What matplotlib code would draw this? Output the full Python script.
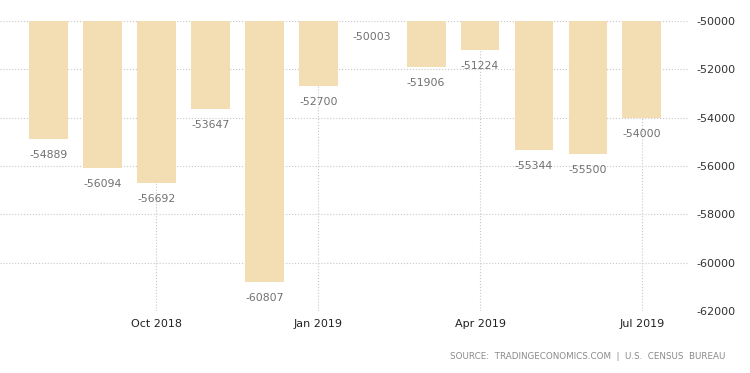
import matplotlib
matplotlib.use("Agg")
import matplotlib.pyplot as plt

months = ["Aug 2018", "Sep 2018", "Oct 2018", "Nov 2018", "Dec 2018", "Jan 2019",
          "Feb 2019", "Mar 2019", "Apr 2019", "May 2019", "Jun 2019", "Jul 2019"]
balance = [-54889, -56094, -56692, -53647, -60807, -52700,
           -50003, -51906, -51224, -55344, -55500, -54000]
tick_idx = [2, 5, 8, 11]
tick_labels = ["Oct 2018", "Jan 2019", "Apr 2019", "Jul 2019"]
y_ticks = [-62000, -60000, -58000, -56000, -54000, -52000, -50000]
base = -50000

fig = plt.figure(figsize=(7.5, 3.73), dpi=100)
ax = fig.add_axes([0.0, 0.166, 0.917, 0.778])

x = list(range(len(months)))
heights = [v - base for v in balance]
ax.bar(x, heights, bottom=base, width=0.72, color="#F3DDB2", zorder=2)

for i, v in zip(x, balance):
    ax.annotate(str(v), (i, v), xytext=(0, -11.5), textcoords="offset points",
                ha="center", va="center", fontsize=7.8, color="#707070", zorder=3)

ax.set_xlim(-0.9, 11.85)
ax.set_ylim(-62000, -50000)
ax.set_xticks(tick_idx)
ax.set_xticklabels(tick_labels, fontsize=8, color="#222222")
ax.set_yticks(y_ticks)
ax.set_yticklabels([str(t) for t in y_ticks], fontsize=8, color="#333333")
ax.yaxis.tick_right()
ax.tick_params(axis="both", length=0)
ax.tick_params(axis="y", pad=6)
ax.tick_params(axis="x", pad=6)

ax.grid(True, linestyle=":", color="#c8c8c8", linewidth=0.8)
ax.set_axisbelow(True)
for s in ax.spines.values():
    s.set_visible(False)

fig.text(0.967, 0.045, "SOURCE:  TRADINGECONOMICS.COM  |  U.S.  CENSUS  BUREAU",
         ha="right", va="center", fontsize=6.3, color="#8a8a8a")

fig.savefig("out.png", dpi=100, facecolor="white")
